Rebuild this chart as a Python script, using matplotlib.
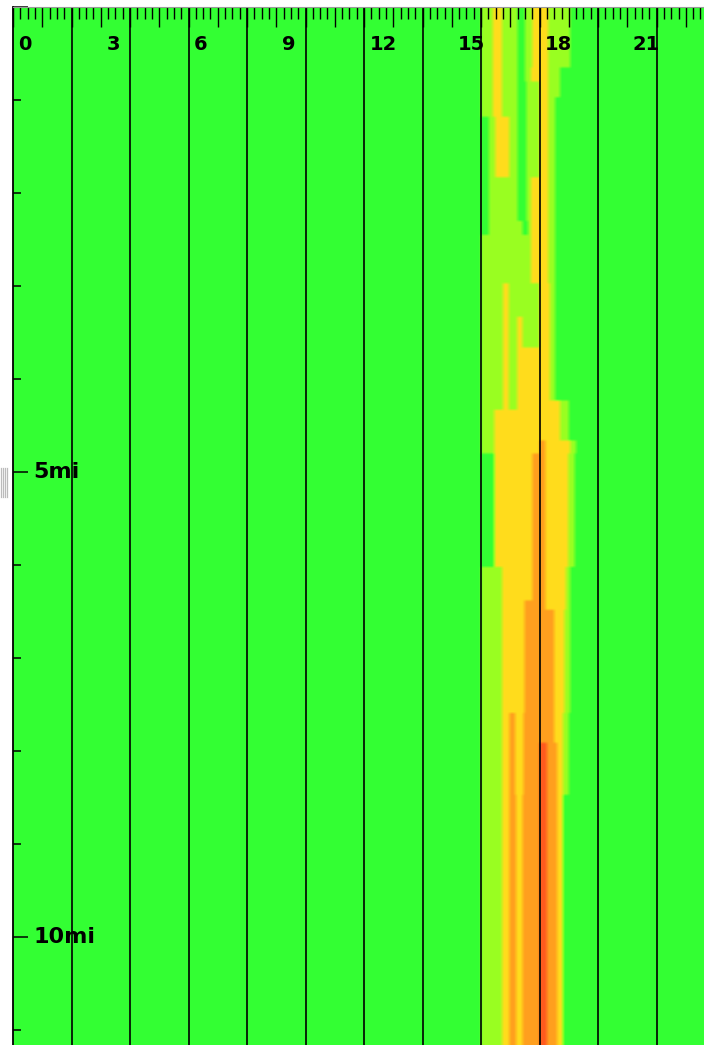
import numpy as np
import matplotlib
matplotlib.use("Agg")
import matplotlib.pyplot as plt
from matplotlib.colors import LinearSegmentedColormap
from matplotlib.ticker import MultipleLocator, NullFormatter
from matplotlib.lines import Line2D

# congestion along a route: hour of day (x) by mile (y)
# level 0 free flow .. 4 stop and go
level_colors = ["#33ff33", "#99ff22", "#ffdd1c", "#ffa01e", "#ff5a1e"]

# mile boundaries of each stretch where the pattern stays the same
band_edges = [0.0, 0.65, 0.8, 0.97, 1.18, 1.83, 2.3, 2.45, 2.97, 3.33, 3.66,
              4.23, 4.33, 4.66, 4.8, 6.02, 6.38, 6.48, 7.59, 7.91, 8.47, 11.2]

# (from hour, to hour, level) for each stretch, anything not listed is level 0
band_segments = [
    [(16.0, 16.4, 1), (16.4, 16.72, 2), (16.72, 17.25, 1), (17.5, 17.75, 1), (17.75, 18.3, 2), (18.3, 19.05, 1)],
    [(16.0, 16.4, 1), (16.4, 16.72, 2), (16.72, 17.25, 1), (17.5, 17.7, 1), (17.7, 18.3, 2), (18.3, 18.7, 1)],
    [(16.0, 16.4, 1), (16.4, 16.72, 2), (16.72, 17.25, 1), (17.55, 18.0, 1), (18.0, 18.3, 2), (18.3, 18.7, 1)],
    [(16.0, 16.4, 1), (16.4, 16.72, 2), (16.72, 17.25, 1), (17.55, 18.0, 1), (18.0, 18.3, 2), (18.3, 18.53, 1)],
    [(16.27, 16.48, 1), (16.48, 16.97, 2), (16.97, 17.25, 1), (17.55, 18.0, 1), (18.0, 18.3, 2), (18.3, 18.53, 1)],
    [(16.27, 17.25, 1), (17.55, 17.7, 1), (17.7, 18.3, 2), (18.3, 18.53, 1)],
    [(16.27, 17.42, 1), (17.6, 17.7, 1), (17.7, 18.3, 2), (18.3, 18.53, 1)],
    [(16.0, 17.7, 1), (17.7, 18.3, 2), (18.3, 18.53, 1)],
    [(16.0, 16.75, 1), (16.75, 16.95, 2), (16.95, 18.0, 1), (18.0, 18.35, 2), (18.35, 18.53, 1)],
    [(16.0, 16.75, 1), (16.75, 16.95, 2), (16.95, 17.24, 1), (17.24, 17.42, 2), (17.42, 18.0, 1), (18.0, 18.35, 2), (18.35, 18.53, 1)],
    [(16.0, 16.75, 1), (16.75, 16.95, 2), (16.95, 17.24, 1), (17.24, 18.35, 2), (18.35, 18.53, 1)],
    [(16.0, 16.75, 1), (16.75, 16.95, 2), (16.95, 17.24, 1), (17.24, 18.7, 2), (18.7, 19.0, 1)],
    [(16.0, 16.45, 1), (16.45, 18.7, 2), (18.7, 19.0, 1)],
    [(16.0, 16.45, 1), (16.45, 18.0, 2), (18.0, 18.2, 3), (18.2, 19.05, 2), (19.05, 19.25, 1)],
    [(16.45, 17.75, 2), (17.75, 18.2, 3), (18.2, 18.99, 2), (18.99, 19.2, 1)],
    [(16.0, 16.72, 1), (16.72, 17.75, 2), (17.75, 18.2, 3), (18.2, 18.9, 2), (18.9, 19.05, 1)],
    [(16.0, 16.72, 1), (16.72, 17.49, 2), (17.49, 18.2, 3), (18.2, 18.9, 2), (18.9, 19.05, 1)],
    [(16.0, 16.72, 1), (16.72, 17.49, 2), (17.49, 18.5, 3), (18.5, 18.85, 2), (18.85, 19.05, 1)],
    [(16.0, 16.72, 1), (16.72, 16.97, 2), (16.97, 17.17, 3), (17.17, 17.45, 2), (17.45, 18.5, 3), (18.5, 18.8, 2), (18.8, 19.0, 1)],
    [(16.0, 16.72, 1), (16.72, 16.97, 2), (16.97, 17.17, 3), (17.17, 17.45, 2), (17.45, 18.0, 3), (18.0, 18.25, 4), (18.25, 18.6, 3), (18.6, 18.8, 2), (18.8, 19.0, 1)],
    [(16.0, 16.72, 1), (16.72, 16.97, 2), (16.97, 17.2, 3), (17.2, 17.42, 2), (17.42, 18.0, 3), (18.0, 18.25, 4), (18.25, 18.6, 3), (18.6, 18.8, 2)],
]

hour_labels = [0, 3, 6, 9, 12, 15, 18, 21]
mile_labels = {5: "5mi", 10: "10mi"}

# sample the stretches onto a grid (1 min columns, 0.01 mi rows)
cols = 24 * 60
rows = int(round(band_edges[-1] * 100))
col_mid = (np.arange(cols) + 0.5) / 60.0
row_mid = (np.arange(rows) + 0.5) / 100.0
grid = np.zeros((rows, cols))
for i in range(len(band_segments)):
    rsel = (row_mid >= band_edges[i]) & (row_mid < band_edges[i + 1])
    for h0, h1, lev in band_segments[i]:
        csel = (col_mid >= h0) & (col_mid < h1)
        grid[np.ix_(rsel, csel)] = lev

# soften the cell edges a little, like the original rendering
kx = np.ones(9) / 9
ky = np.ones(3) / 3
grid = np.apply_along_axis(lambda r: np.convolve(r, kx, mode="same"), 1, grid)
grid = np.apply_along_axis(lambda c: np.convolve(c, ky, mode="same"), 0, grid)

cmap = LinearSegmentedColormap.from_list("traffic", level_colors)

fig = plt.figure(figsize=(7.04, 10.45), dpi=100)
ax = fig.add_axes([13 / 704, 0, 1 - 13 / 704, 1 - 7 / 1045])
ax.imshow(grid, extent=[0, 24, band_edges[-1], 0], aspect="auto", cmap=cmap,
          vmin=0, vmax=4, interpolation="bilinear", interpolation_stage="data")
ax.set_xlim(0, 23.62)
ax.set_ylim(11.16, 0)

for h in range(2, 24, 2):
    ax.axvline(h, color="black", lw=1.2)

# ruler along the top
ax.xaxis.tick_top()
ax.xaxis.set_major_locator(MultipleLocator(1))
ax.xaxis.set_minor_locator(MultipleLocator(0.25))
ax.xaxis.set_major_formatter(NullFormatter())
ax.tick_params(axis="x", which="major", direction="in", length=14.5, width=1.0, color="black")
ax.tick_params(axis="x", which="minor", direction="in", length=8.5, width=1.0, color="black")
for h in hour_labels:
    ax.annotate(str(h), xy=(h, 1), xycoords=("data", "axes fraction"),
                xytext=(4, -31), textcoords="offset points",
                ha="left", va="baseline", fontsize=14, fontweight="bold",
                family="DejaVu Sans")

# miles down the left side
ax.yaxis.set_major_locator(MultipleLocator(5))
ax.yaxis.set_minor_locator(MultipleLocator(1))
ax.yaxis.set_major_formatter(NullFormatter())
ax.tick_params(axis="y", which="major", direction="in", length=11, width=1.1, color="black")
ax.tick_params(axis="y", which="minor", direction="in", length=5.8, width=1.1, color="black")
for m, lab in mile_labels.items():
    ax.annotate(lab, xy=(0, m), xycoords=("axes fraction", "data"),
                xytext=(14.5, 0), textcoords="offset points",
                ha="left", va="center", fontsize=16, fontweight="bold",
                family="DejaVu Sans")

for side in ["right", "bottom"]:
    ax.spines[side].set_visible(False)
ax.spines["left"].set_linewidth(1.3)
ax.spines["top"].set_color("#999999")
ax.spines["top"].set_linewidth(0.8)

# little splitter grip left of the panel
for k in range(4):
    fig.add_artist(Line2D([(1 + 2 * k) / 704] * 2, [1 - 468 / 1045, 1 - 497 / 1045],
                          color="#bbbbbb", lw=0.9))

fig.savefig("out.png", dpi=100)
